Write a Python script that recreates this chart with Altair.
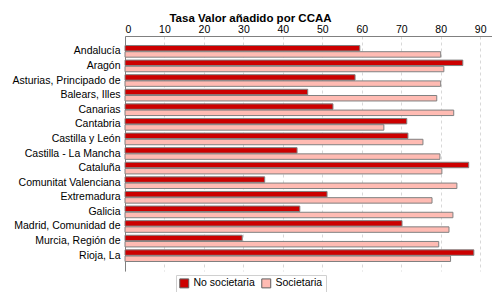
import altair as alt
import pandas as pd

regions = ["Andalucía", "Aragón", "Asturias, Principado de", "Balears, Illes", "Canarias",
           "Cantabria", "Castilla y León", "Castilla - La Mancha", "Cataluña",
           "Comunitat Valenciana", "Extremadura", "Galicia", "Madrid, Comunidad de",
           "Murcia, Región de", "Rioja, La"]
no_societaria = [59.5, 85.6, 58.3, 46.3, 52.7, 71.4, 71.7, 43.6, 87.1, 35.4, 51.2, 44.3, 70.2, 29.7, 88.4]
societaria = [80.0, 80.8, 80.0, 79.0, 83.3, 65.6, 75.5, 79.8, 80.3, 84.1, 77.8, 83.1, 82.1, 79.5, 82.5]
series = ["No societaria", "Societaria"]
colors = ["#CC0000", "#FFBBB3"]

rows = []
for r, a, b in zip(regions, no_societaria, societaria):
    rows.append({"region": r, "serie": series[0], "valor": a})
    rows.append({"region": r, "serie": series[1], "valor": b})
df = pd.DataFrame(rows)

font = "Liberation Sans"

chart = alt.Chart(df).mark_bar(stroke="#808080", strokeWidth=1).encode(
    x=alt.X("valor:Q", scale=alt.Scale(domain=[0, 93], nice=False),
            axis=alt.Axis(orient="top", values=list(range(0, 100, 10)), title=None,
                          grid=True, gridDash=[3, 3], gridColor="#D8D8D8",
                          domainColor="#808080", ticks=False,
                          labelFont=font, labelFontSize=10.5, labelColor="#000000",
                          labelPadding=2)),
    y=alt.Y("region:N", sort=regions,
            scale=alt.Scale(paddingInner=0.2, paddingOuter=0.65),
            axis=alt.Axis(title=None, ticks=False, domainColor="#808080",
                          labelFont=font, labelFontSize=10.5, labelColor="#000000",
                          labelPadding=5)),
    yOffset=alt.YOffset("serie:N", sort=series, scale=alt.Scale(paddingInner=0.12)),
    color=alt.Color("serie:N", sort=series,
                    scale=alt.Scale(domain=series, range=colors),
                    legend=alt.Legend(title=None, orient="none", direction="horizontal",
                                      legendX=51, legendY=239,
                                      symbolType="square", symbolSize=80,
                                      symbolStrokeColor="#606060", symbolStrokeWidth=1,
                                      labelFont=font, labelFontSize=10.5,
                                      strokeColor="#D0D0D0", padding=3,
                                      columnPadding=4)),
).properties(
    width=367, height=235,
    padding={"left": 117, "top": 28, "right": 0, "bottom": 21},
    autosize=alt.AutoSizeParams(type="none"),
    title=alt.TitleParams("Tasa Valor añadido por CCAA", font=font, fontSize=11.5,
                          fontWeight="bold", anchor="middle", dx=-58, offset=0),
).configure_view(stroke=None)

chart.save("out.html", embed_options={"renderer": "svg", "actions": False})
